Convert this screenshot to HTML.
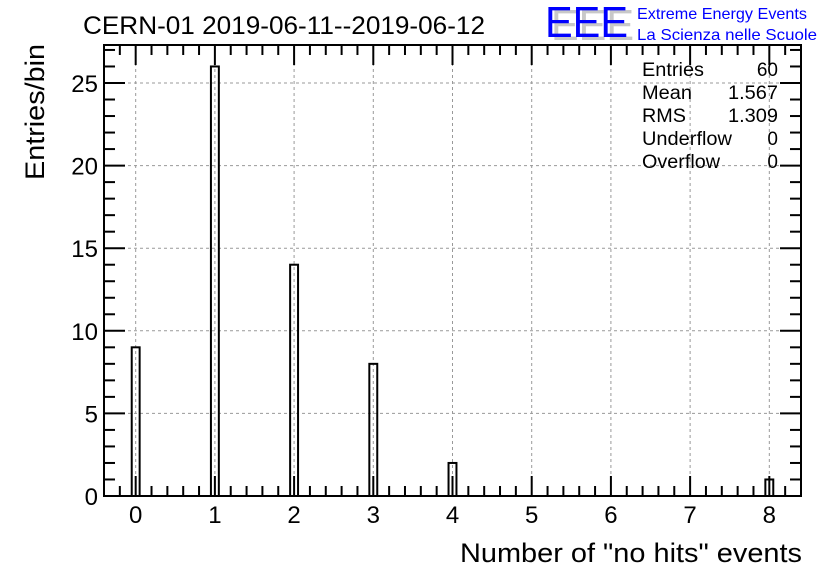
<!DOCTYPE html>
<html><head><meta charset="utf-8"><style>
html,body{margin:0;padding:0;background:#fff;}
svg{display:block;font-family:"Liberation Sans",Arial,sans-serif;}
</style></head><body>
<svg id="c" width="836" height="572" viewBox="0 0 836 572">
<rect width="836" height="572" fill="#fff"/>
<text x="83" y="34" font-size="25" textLength="402" lengthAdjust="spacingAndGlyphs">CERN-01 2019-06-11--2019-06-12</text>
<g>
<text x="551" y="40" font-size="44" fill="#c8c8c8" textLength="83" lengthAdjust="spacingAndGlyphs">EEE</text>
<text x="545" y="37" font-size="44" fill="#0000ff" textLength="83" lengthAdjust="spacingAndGlyphs">EEE</text>
<text x="637" y="19" font-size="16" fill="#0000ff" textLength="170" lengthAdjust="spacingAndGlyphs">Extreme Energy Events</text>
<text x="637" y="40" font-size="16" fill="#0000ff" textLength="180" lengthAdjust="spacingAndGlyphs">La Scienza nelle Scuole</text>
</g>
<g id="grid"></g>
<g id="bars"></g>
<g id="axes"></g>
<g font-size="19">
<text x="642" y="76" textLength="62" lengthAdjust="spacingAndGlyphs">Entries</text><text x="778" y="76" text-anchor="end">60</text>
<text x="642" y="99" textLength="50" lengthAdjust="spacingAndGlyphs">Mean</text><text x="778" y="99" text-anchor="end" textLength="50" lengthAdjust="spacingAndGlyphs">1.567</text>
<text x="642" y="122" textLength="44" lengthAdjust="spacingAndGlyphs">RMS</text><text x="778" y="122" text-anchor="end" textLength="50" lengthAdjust="spacingAndGlyphs">1.309</text>
<text x="642" y="145" textLength="90" lengthAdjust="spacingAndGlyphs">Underflow</text><text x="778" y="145" text-anchor="end">0</text>
<text x="642" y="168" textLength="78" lengthAdjust="spacingAndGlyphs">Overflow</text><text x="778" y="168" text-anchor="end">0</text>
</g>
<text x="802" y="562" font-size="27" text-anchor="end" textLength="342" lengthAdjust="spacingAndGlyphs">Number of "no hits" events</text>
<text transform="translate(44,180) rotate(-90)" font-size="27" textLength="136" lengthAdjust="spacingAndGlyphs">Entries/bin</text>
</svg>
<script>
const categories = [0, 1, 2, 3, 4, 8];
const counts = [9, 26, 14, 8, 2, 1];
const xTicks = ["0","1","2","3","4","5","6","7","8"];
const yTicks = ["0","5","10","15","20","25"];
const L=104,R=801,T=45,B=496,XMIN=-0.4,XMAX=8.4,YMIN=0,YMAX=27.3;
const sx=v=>L+(v-XMIN)/(XMAX-XMIN)*(R-L);
const sy=v=>B-(v-YMIN)/(YMAX-YMIN)*(B-T);
const NS="http://www.w3.org/2000/svg";
function mk(parent,tag,attrs){const e=document.createElementNS(NS,tag);for(const k in attrs)e.setAttribute(k,attrs[k]);parent.appendChild(e);return e;}
const grid=document.getElementById('grid'),bars=document.getElementById('bars'),axes=document.getElementById('axes');
xTicks.forEach(t=>{const x=sx(+t);
 const g=mk(grid,'line',{x1:x,x2:x,y1:T,y2:B,stroke:'#999','stroke-dasharray':'3,3','stroke-width':1});
 
 });
yTicks.forEach(t=>{const y=sy(+t);
 const g=mk(grid,'line',{x1:L,x2:R,y1:y,y2:y,stroke:'#999','stroke-dasharray':'3,3','stroke-width':1});
 
 });
categories.forEach((c,i)=>{
 const x0=sx(c-0.05),x1=sx(c+0.05),y=sy(counts[i]);
 const r=mk(bars,'rect',{x:x0,y:y,width:x1-x0,height:B-y,fill:'none',stroke:'#000','stroke-width':2});
 
 
});
const fr=mk(axes,'rect',{x:L,y:T,width:R-L,height:B-T,fill:'none',stroke:'#000','stroke-width':2});


for(let v=-0.4;v<=8.41;v+=0.2){const x=sx(v);const major=Math.abs(v-Math.round(v))<1e-6;const len=major?20:10;
 mk(axes,'line',{x1:x,x2:x,y1:B,y2:B-len,stroke:'#000','stroke-width':2});
 mk(axes,'line',{x1:x,x2:x,y1:T,y2:T+len,stroke:'#000','stroke-width':2});}
for(let v=0;v<=27;v+=1){const y=sy(v);const len=v%5===0?21:11;
 mk(axes,'line',{x1:L,x2:L+len,y1:y,y2:y,stroke:'#000','stroke-width':2});
 mk(axes,'line',{x1:R,x2:R-len,y1:y,y2:y,stroke:'#000','stroke-width':2});}
xTicks.forEach(t=>{const e=mk(axes,'text',{x:sx(+t),y:523,'font-size':24,'text-anchor':'middle'});e.textContent=t;
 
 });
yTicks.forEach(t=>{const e=mk(axes,'text',{x:98,y:sy(+t)+9,'font-size':24,'text-anchor':'end'});e.textContent=t;
 
 });
</script>
</body></html>
